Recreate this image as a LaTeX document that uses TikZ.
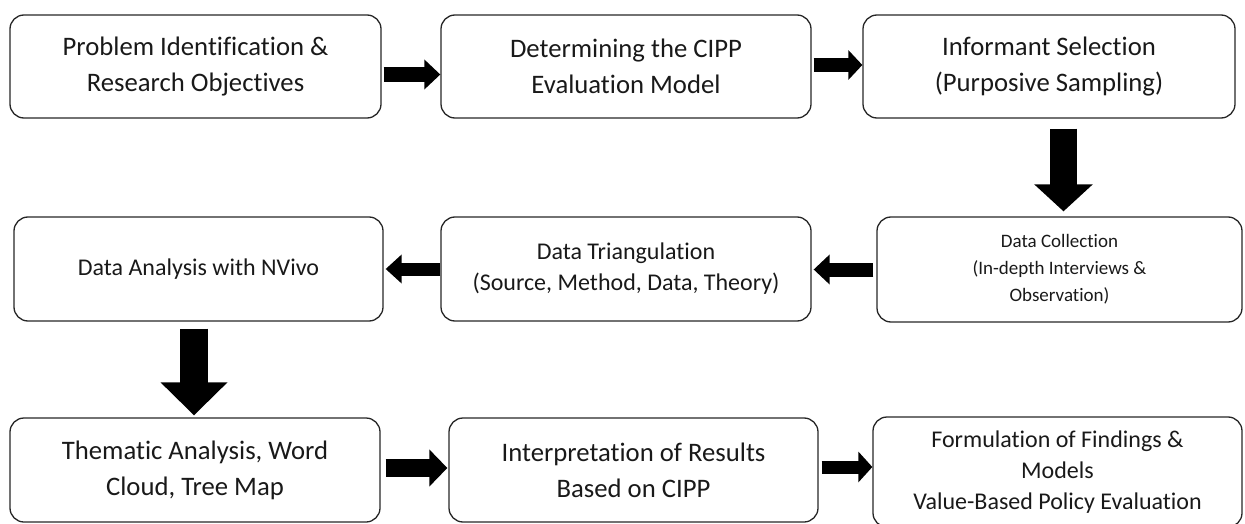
\documentclass[tikz,border=0pt]{standalone}
\usepackage{fontspec}
\setmainfont{Carlito}[Ligatures=NoCommon]
\usetikzlibrary{arrows.meta,calc}
\tikzset{
  stage/.style={draw=black!85, line width=1.3pt, rounded corners=14pt, inner sep=0pt,
    align=center, text=black!90},
  bigtxt/.style={font=\fontsize{26.7}{36}\selectfont},
  midtxt/.style={font=\fontsize{24}{31}\selectfont},
  smalltxt/.style={font=\fontsize{19}{27}\selectfont},
  fat/.style={draw=black, line cap=butt}
}
\begin{document}
\begin{tikzpicture}[x=1pt,y=-1pt]
\useasboundingbox (0,0) rectangle (1245,524);
\clip (0,0) rectangle (1245,524);
% row 1
\node[stage,bigtxt,minimum width=371pt,minimum height=103pt] (A) at (195.5,66.5) {Problem Identification \&\\Research Objectives};
\node[stage,bigtxt,minimum width=370pt,minimum height=103pt] (B) at (626,66.5) {Determining the CIPP\\Evaluation Model};
\node[stage,bigtxt,minimum width=372pt,minimum height=103pt] (C) at (1049,66.5) {Informant Selection\\(Purposive Sampling)};
% row 2
\node[stage,smalltxt,minimum width=365pt,minimum height=105pt] (D) at (1059.5,269.5) {Data Collection\\(In-depth Interviews \&\\Observation)};
\node[stage,midtxt,minimum width=370pt,minimum height=104pt] (E) at (626,269) {Data Triangulation\\(Source, Method, Data, Theory)};
\node[stage,midtxt,minimum width=369pt,minimum height=104pt] (F) at (198.5,269) {Data Analysis with NVivo};
% row 3
\node[stage,bigtxt,minimum width=370pt,minimum height=104pt] (G) at (195,470) {Thematic Analysis, Word\\Cloud, Tree Map};
\node[stage,bigtxt,minimum width=369pt,minimum height=104pt] (H) at (633.5,470) {Interpretation of Results\\Based on CIPP};
\node[stage,midtxt,minimum width=369pt,minimum height=110pt] (I) at (1057.5,472) {Formulation of Findings \&\\Models\\Value-Based Policy Evaluation};
% connectors
\draw[fat,line width=15pt,-{Triangle[length=16pt,width=29pt]}] ($(A.east)+(2,8)$) -- ($(B.west)+(0,8)$);
\draw[fat,line width=14pt,-{Triangle[length=14pt,width=29pt]}] ($(B.east)+(2,-1.5)$) -- ($(C.west)+(0,-1.5)$);
\draw[fat,line width=27pt,-{Triangle[length=27pt,width=57pt]}] ($(C.south)+(14.5,10)$) -- ($(C.south |- D.north)+(14.5,-5)$);
\draw[fat,line width=14pt,-{Triangle[length=16pt,width=29pt]}] ($(D.west)+(-3,0)$) -- ($(E.east |- D.west)+(2,0)$);
\draw[fat,line width=13pt,-{Triangle[length=16pt,width=28pt]}] (E.west) -- ($(F.east)+(2,0)$);
\draw[fat,line width=28pt,-{Triangle[length=33pt,width=65pt]}] ($(F.south)+(-4.5,7)$) -- ($(F.south |- G.north)+(-4.5,-2)$);
\draw[fat,line width=18pt,-{Triangle[length=18pt,width=36pt]}] ($(G.east)+(5,-2)$) -- ($(H.west)+(-1,-2)$);
\draw[fat,line width=13pt,-{Triangle[length=14pt,width=30pt]}] ($(H.east)+(3,-3)$) -- ($(I.west |- H.east)+(0,-3)$);
\end{tikzpicture}
\end{document}
